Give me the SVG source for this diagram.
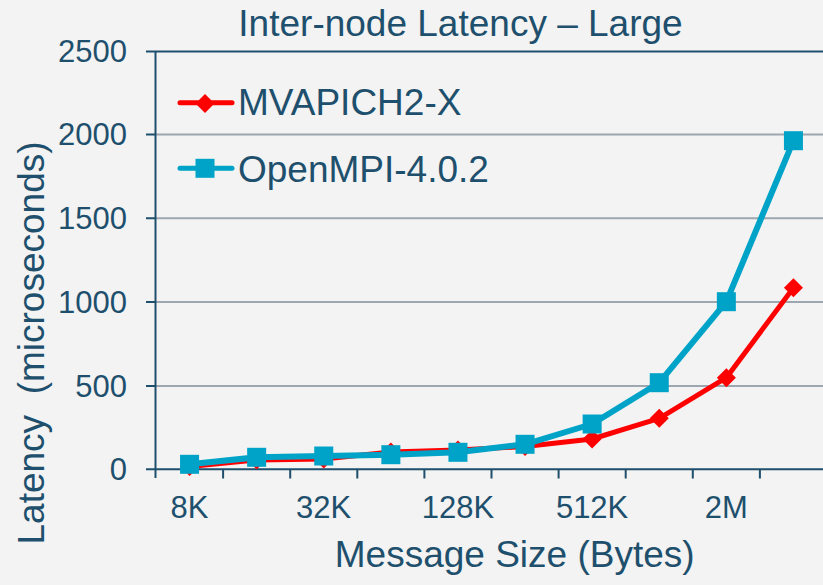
<svg xmlns="http://www.w3.org/2000/svg" width="823" height="585" viewBox="0 0 823 585">
<defs>
<style>
.t{font-family:"Liberation Sans",Arial,sans-serif;fill:#1E4F6D}
.title{font-size:37px;text-anchor:middle}
.yl{font-size:31px;text-anchor:end}
.xl{font-size:31px;text-anchor:middle}
.leg{font-size:37px}
.ax{stroke:#1E4F6D;stroke-width:2;fill:none}
.grid{stroke:#9EA6B0;stroke-width:2;fill:none}
.red{stroke:#FF0000;stroke-width:5;fill:none;stroke-linejoin:round;stroke-linecap:round}
.blue{stroke:#00A3C8;stroke-width:6;fill:none;stroke-linejoin:round;stroke-linecap:round}
.dia{fill:#FF0000}
.sq{fill:#00A3C8}
</style>
<path id="d" d="M0,-9.5 L9.5,0 L0,9.5 L-9.5,0 Z"/>
<rect id="s" x="-9.5" y="-9.5" width="19" height="19"/>
</defs>
<rect width="823" height="585" fill="#F2F3F2"/>
<text class="t title" x="460.5" y="36">Inter-node Latency – Large</text>
<g id="grid">
<line class="grid" x1="156" y1="134.6" x2="823" y2="134.6"/>
<line class="grid" x1="156" y1="218.3" x2="823" y2="218.3"/>
<line class="grid" x1="156" y1="302.1" x2="823" y2="302.1"/>
<line class="grid" x1="156" y1="385.9" x2="823" y2="385.9"/>
<line class="ax" x1="146" y1="51.5" x2="823" y2="51.5"/>
</g>
<g id="axes">
<line class="ax" x1="155.5" y1="51.5" x2="155.5" y2="478"/>
<line class="ax" x1="146" y1="469.3" x2="823" y2="469.3"/>
<path class="ax" d="M146,134.6H156M146,218.3H156M146,302.1H156M146,385.9H156"/>
<path class="ax" d="M223.1,469.3V478.5M290.2,469.3V478.5M357.3,469.3V478.5M424.4,469.3V478.5M491.5,469.3V478.5M558.6,469.3V478.5M625.7,469.3V478.5M692.8,469.3V478.5M759.9,469.3V478.5"/>
</g>
<g id="ylabels">
<text class="t yl" x="127" y="62">2500</text>
<text class="t yl" x="127" y="145.3">2000</text>
<text class="t yl" x="127" y="229">1500</text>
<text class="t yl" x="127" y="312.8">1000</text>
<text class="t yl" x="127" y="396.6">500</text>
<text class="t yl" x="127" y="479.5">0</text>
</g>
<g id="xlabels">
<text class="t xl" x="189.5" y="517.7">8K</text>
<text class="t xl" x="323.7" y="517.7">32K</text>
<text class="t xl" x="457.9" y="517.7">128K</text>
<text class="t xl" x="592.1" y="517.7">512K</text>
<text class="t xl" x="726.3" y="517.7">2M</text>
</g>
<text class="t leg" x="514.7" y="567" text-anchor="middle">Message Size (Bytes)</text>
<text class="t leg" transform="translate(43.5,343) rotate(-90)" text-anchor="middle" xml:space="preserve">Latency  (microseconds)</text>
<g id="connectors">
<polyline class="red" points="189.55,466.5 256.65,460 323.75,459 390.85,452 457.95,450 525.05,446.5 592.15,439 659.25,418.3 726.35,377.7 793.45,287.7"/>
<polyline class="blue" points="189.55,464.3 256.65,457.3 323.75,456 390.85,454.7 457.95,452.3 525.05,444.3 592.15,424 659.25,382.7 726.35,301.7 793.45,140.7"/>
</g>
<g id="series-mvapich">
<use href="#d" class="dia" x="189.55" y="466.5"/>
<use href="#d" class="dia" x="256.65" y="460"/>
<use href="#d" class="dia" x="323.75" y="459"/>
<use href="#d" class="dia" x="390.85" y="452"/>
<use href="#d" class="dia" x="457.95" y="450"/>
<use href="#d" class="dia" x="525.05" y="446.5"/>
<use href="#d" class="dia" x="592.15" y="439"/>
<use href="#d" class="dia" x="659.25" y="418.3"/>
<use href="#d" class="dia" x="726.35" y="377.7"/>
<use href="#d" class="dia" x="793.45" y="287.7"/>
</g>
<g id="series-openmpi">
<use href="#s" class="sq" x="189.55" y="464.3"/>
<use href="#s" class="sq" x="256.65" y="457.3"/>
<use href="#s" class="sq" x="323.75" y="456"/>
<use href="#s" class="sq" x="390.85" y="454.7"/>
<use href="#s" class="sq" x="457.95" y="452.3"/>
<use href="#s" class="sq" x="525.05" y="444.3"/>
<use href="#s" class="sq" x="592.15" y="424"/>
<use href="#s" class="sq" x="659.25" y="382.7"/>
<use href="#s" class="sq" x="726.35" y="301.7"/>
<use href="#s" class="sq" x="793.45" y="140.7"/>
</g>
<g id="legend">
<line class="red" x1="180" y1="102.7" x2="232" y2="102.7"/>
<use href="#d" class="dia" x="205" y="103.5"/>
<text class="t leg" x="238" y="115">MVAPICH2-X</text>
<line class="blue" x1="180" y1="168.3" x2="232" y2="168.3" style="stroke-width:5"/>
<use href="#s" class="sq" x="205" y="168.3"/>
<text class="t leg" x="238" y="181.5">OpenMPI-4.0.2</text>
</g>
</svg>
